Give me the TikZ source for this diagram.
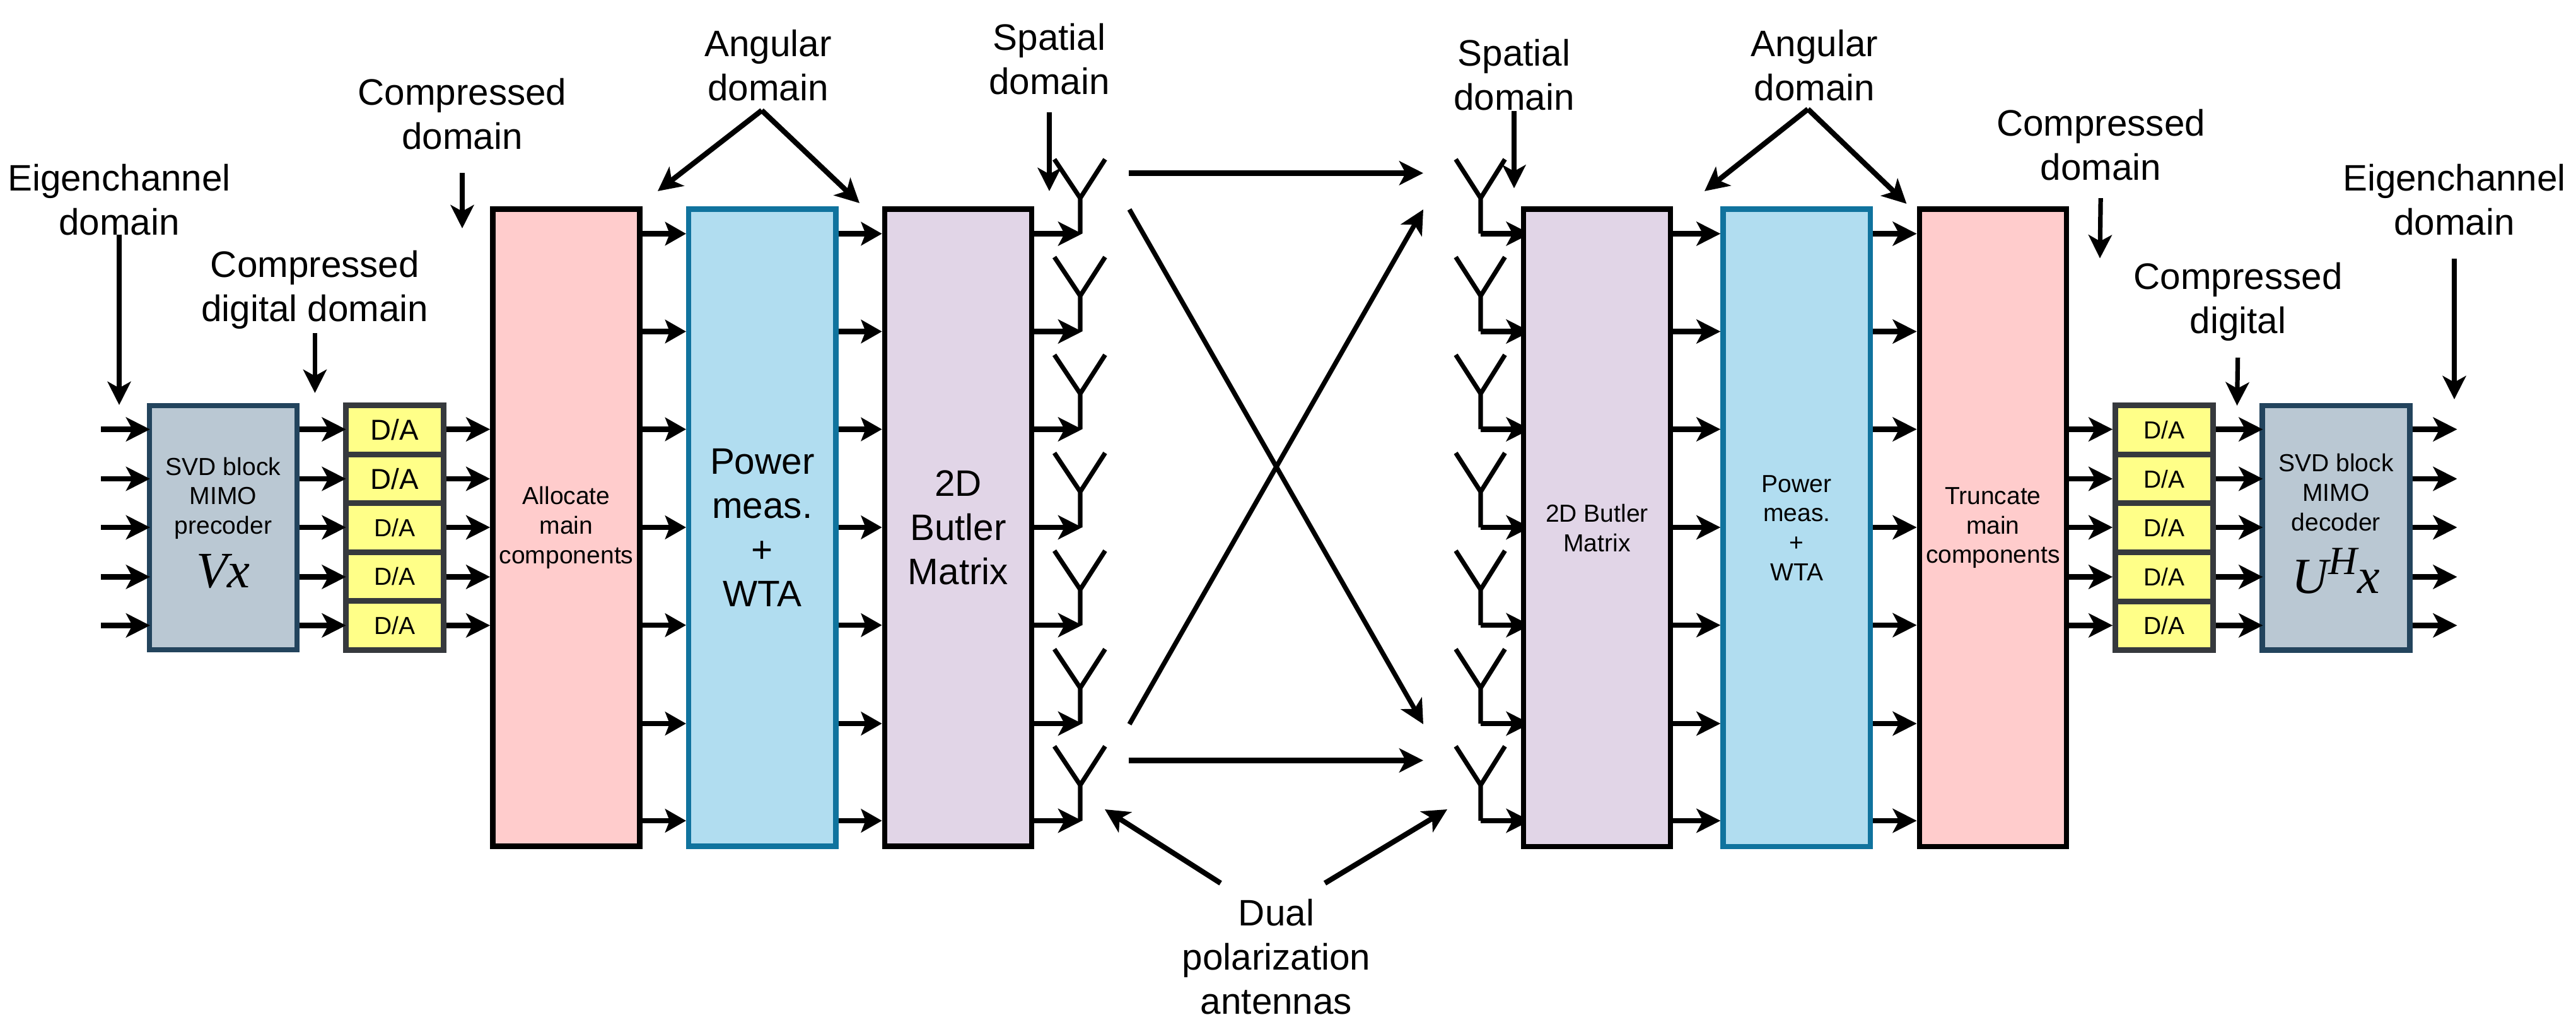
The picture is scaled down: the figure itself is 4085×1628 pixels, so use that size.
\documentclass[tikz,border=0pt]{standalone}
\usepackage{fontspec}
\usepackage{xcolor}
\setmainfont{Liberation Sans}
\newfontfamily\varfont{Liberation Serif}
\usetikzlibrary{arrows.meta,positioning,backgrounds}
\definecolor{AllocRed}{HTML}{FFCCCC}
\definecolor{PowerBlue}{HTML}{B1DDF0}
\definecolor{PowerEdge}{HTML}{10739E}
\definecolor{ButlerPurple}{HTML}{E1D5E7}
\definecolor{SvdGrey}{HTML}{BAC8D3}
\definecolor{SvdEdge}{HTML}{23445D}
\definecolor{DacYellow}{HTML}{FFFF88}
\definecolor{DacEdge}{HTML}{36393D}
\tikzset{
  bigfont/.style={font=\fontsize{16.6pt}{19.9pt}\selectfont},
  smallfont/.style={font=\fontsize{11.1pt}{13.3pt}\selectfont},
  tagtext/.style={bigfont, align=center, inner sep=0pt},
  tallbox/.style={draw=black, line width=0.085cm, align=center, inner sep=0pt, minimum width=2.33cm, minimum height=10.095cm},
  redbox/.style={tallbox, fill=AllocRed},
  bluebox/.style={tallbox, draw=PowerEdge, fill=PowerBlue},
  purplebox/.style={tallbox, fill=ButlerPurple},
  svdbox/.style={draw=SvdEdge, fill=SvdGrey, line width=0.085cm, align=center, inner sep=0pt, minimum width=2.335cm, minimum height=3.87cm, smallfont},
  dacbox/.style={draw=DacEdge, fill=DacYellow, line width=0.09cm, inner sep=0pt, minimum width=1.55cm, minimum height=0.775cm, smallfont},
  arrow/.style={-{Stealth[length=0.38cm, width=0.38cm, inset=0.1cm]}, line width=0.083cm},
  midarrow/.style={-{Stealth[length=0.33cm, width=0.37cm, inset=0.07cm]}, line width=0.083cm},
  pointer/.style={-{Stealth[length=0.37cm, width=0.37cm, inset=0.1cm]}, line width=0.072cm},
  ray/.style={-{Stealth[length=0.38cm, width=0.38cm, inset=0.1cm]}, line width=0.075cm},
  antenna/.style={line width=0.072cm, line join=miter}
}
\begin{document}
\begin{tikzpicture}[x=0.01cm, y=-0.01cm]
    \useasboundingbox (0,0) rectangle (4085,1628);

    \node[svdbox] (svdL) at (354,836.5) {SVD block\\MIMO\\precoder\\[0.2cm]{\fontsize{23pt}{24pt}\selectfont\varfont\itshape Vx}\rule[-0.17cm]{0pt}{0.17cm}};
    \node[dacbox, right=0.685cm of svdL] (daL3) {D/A};
    \node[dacbox, above=-0.09cm of daL3, font=\fontsize{13pt}{15pt}\selectfont] (daL2) {D/A};
    \node[dacbox, above=-0.09cm of daL2, font=\fontsize{13pt}{15pt}\selectfont] (daL1) {D/A};
    \node[dacbox, below=-0.09cm of daL3] (daL4) {D/A};
    \node[dacbox, below=-0.09cm of daL4] (daL5) {D/A};
    \node[redbox, right=0.695cm of daL3, smallfont] (alloc) {Allocate\\main\\components};
    \node[bluebox, right=0.69cm of alloc, bigfont] (powerL) {Power\\meas.\\+\\WTA};
    \node[purplebox, right=0.69cm of powerL, bigfont] (butlerL) {2D\\Butler\\Matrix};

    \node[purplebox, smallfont] (butlerR) at (2532.5,836.75) {2D Butler\\Matrix};
    \node[bluebox, right=0.75cm of butlerR, smallfont] (powerR) {Power\\meas.\\+\\WTA};
    \node[redbox, right=0.695cm of powerR, smallfont] (trunc) {Truncate\\main\\components};
    \node[dacbox, right=0.69cm of trunc] (daR3) {D/A};
    \node[dacbox, above=-0.09cm of daR3] (daR2) {D/A};
    \node[dacbox, above=-0.09cm of daR2] (daR1) {D/A};
    \node[dacbox, below=-0.09cm of daR3] (daR4) {D/A};
    \node[dacbox, below=-0.09cm of daR4] (daR5) {D/A};
    \node[svdbox, right=0.69cm of daR3] (svdR) {SVD block\\MIMO\\decoder\\[0.24cm]{\fontsize{22.8pt}{24pt}\selectfont\varfont\itshape U\raisebox{0.3cm}{\fontsize{18pt}{20pt}\selectfont H}x}\rule[-0.13cm]{0pt}{0.13cm}};

    \node[tagtext] (eigL) at (189,316.6) {Eigenchannel\\domain};
    \node[tagtext] (digL) at (499.4,459) {Compressed\\digital domain};
    \node[tagtext] (compL) at (733,181) {Compressed\\domain};
    \node[tagtext] (angL) at (1218,104) {Angular\\domain};
    \node[tagtext] (spaL) at (1664,94) {Spatial\\domain};
    \node[tagtext] (spaR) at (2401,119) {Spatial\\domain};
    \node[tagtext] (angR) at (2877.5,104) {Angular\\domain};
    \node[tagtext] (compR) at (3331.5,230) {Compressed\\domain};
    \node[tagtext] (digR) at (3549,478) {Compressed\\digital};
    \node[tagtext] (eigR) at (3892,316.7) {Eigenchannel\\domain};
    \node[tagtext] (dual) at (2024,1517) {Dual\\polarization\\antennas};

    \foreach \i/\ry in {1/370.5,2/525.5,3/680.5,4/836,5/991,6/1147,7/1301} {
      \coordinate (row\i) at (0,\ry);
      \coordinate (antL\i) at (1713,\ry);
      \coordinate (antR\i) at (2348,\ry);
      \draw[antenna] (antL\i) -- ++(0,-56.5) coordinate (forkL\i) -- ++(-41,-61.5) (forkL\i) -- ++(39.5,-61.5);
      \draw[antenna] (antR\i) -- ++(0,-56.5) coordinate (forkR\i) -- ++(-39.5,-61.5) (forkR\i) -- ++(38.5,-61.5);
      \draw[midarrow] (alloc.east |- row\i) -- (powerL.west |- row\i);
      \draw[midarrow] (powerL.east |- row\i) -- (butlerL.west |- row\i);
      \draw[arrow, shorten >=-0.03cm] (butlerL.east |- row\i) -- (antL\i);
      \draw[arrow] (butlerR.east |- row\i) -- (powerR.west |- row\i);
      \draw[arrow] (powerR.east |- row\i) -- (trunc.west |- row\i);
      \begin{scope}[on background layer]
        \draw[arrow, shorten >=-0.15cm] (antR\i) -- (butlerR.west |- row\i);
      \end{scope}
    }

    \foreach \i/\ry in {1/680.6,2/759,3/836,4/914.5,5/991.4} {
      \coordinate (port\i) at (0,\ry);
      \coordinate (inL\i) at (160,\ry);
      \coordinate (outR\i) at (3896.5,\ry);
      \draw[arrow, shorten >=-0.05cm] (inL\i) -- (svdL.west |- port\i);
      \draw[arrow, shorten >=-0.05cm] (svdL.east |- port\i) -- (daL\i.west |- port\i);
      \draw[arrow] (daL\i.east |- port\i) -- (alloc.west |- port\i);
      \draw[arrow] (trunc.east |- port\i) -- (daR\i.west |- port\i);
      \draw[arrow, shorten >=-0.05cm] (daR\i.east |- port\i) -- (svdR.west |- port\i);
      \draw[arrow] (svdR.east |- port\i) -- (outR\i);
    }

    \coordinate (txTop) at (1790,274.4);
    \coordinate (rxTop) at (2257,274.4);
    \coordinate (txBot) at (1790,1205.4);
    \coordinate (rxBot) at (2257,1205.4);
    \coordinate (txUp) at (1791,332);
    \coordinate (rxUp) at (2257,332);
    \coordinate (txDown) at (1791,1148);
    \coordinate (rxDown) at (2257,1148);
    \draw[arrow] (txTop) -- (rxTop);
    \draw[arrow] (txBot) -- (rxBot);
    \draw[ray] (txUp) -- (rxDown);
    \draw[ray] (txDown) -- (rxUp);

    \coordinate (tipEigL) at (189,642);
    \coordinate (tipDigL) at (499.4,623);
    \coordinate (tipCompL) at (733,362);
    \coordinate (tipSpaL) at (1664,303);
    \coordinate (tipSpaR) at (2401,298.5);
    \coordinate (tipCompR) at (3330,409.5);
    \coordinate (tipDigR) at (3547.5,643);
    \coordinate (tipEigR) at (3892,633);
    \draw[pointer] (eigL) ++(0,55) -- (tipEigL);
    \draw[pointer, shorten <=0.06cm] (digL.south) -- (tipDigL);
    \draw[pointer, shorten <=0.36cm] (compL.south) -- (tipCompL);
    \draw[pointer, shorten <=0.27cm] (spaL.south) -- (tipSpaL);
    \draw[pointer] (spaR.south) -- (tipSpaR);
    \draw[pointer, shorten <=0.27cm] (compR.south) -- (tipCompR);
    \draw[pointer, shorten <=0.26cm] (digR.south) -- (tipDigR);
    \draw[pointer, shorten <=0.365cm] (eigR.south) -- (tipEigR);

    \coordinate (apexL) at (1208,175);
    \coordinate (apexR) at (2867,173);
    \coordinate (tipAngL1) at (1043,303);
    \coordinate (tipAngL2) at (1363,322);
    \coordinate (tipAngR1) at (2703,303);
    \coordinate (tipAngR2) at (3023.4,323);
    \draw[arrow] (apexL) -- (tipAngL1);
    \draw[arrow] (apexL) -- (tipAngL2);
    \draw[arrow] (apexR) -- (tipAngR1);
    \draw[arrow] (apexR) -- (tipAngR2);

    \coordinate (dualL) at (1935.6,1400);
    \coordinate (dualR) at (2101,1400);
    \coordinate (tipDualL) at (1752,1283);
    \coordinate (tipDualR) at (2295,1283);
    \draw[arrow] (dualL) -- (tipDualL);
    \draw[arrow] (dualR) -- (tipDualR);
  \end{tikzpicture}
\end{document}
